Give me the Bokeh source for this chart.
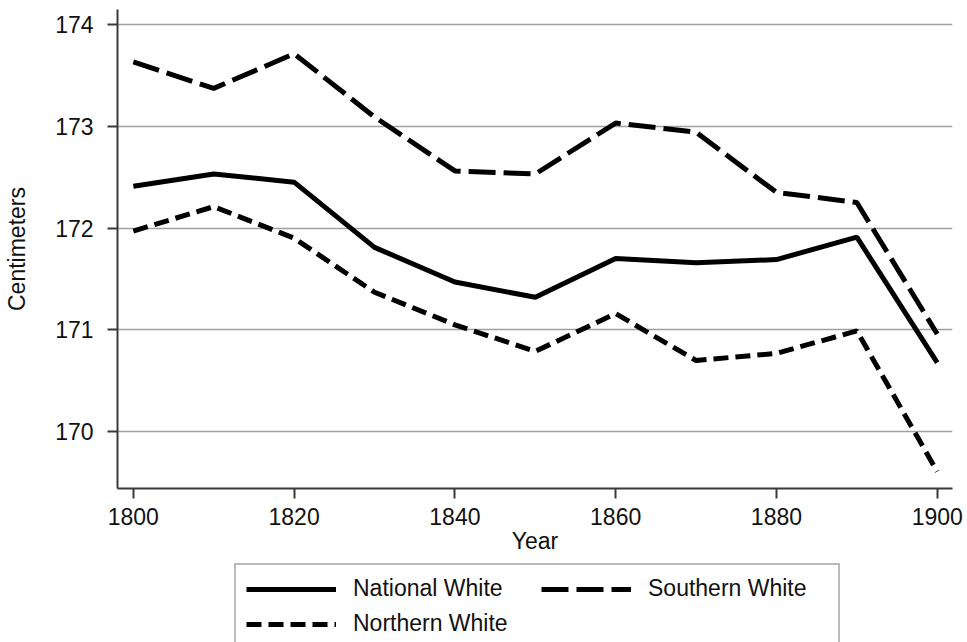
from bokeh.plotting import figure
from bokeh.layouts import column
from bokeh.models import Legend, LegendItem, FixedTicker, Range1d
from bokeh.embed import file_html
from bokeh.resources import INLINE

years = [1800, 1810, 1820, 1830, 1840, 1850, 1860, 1870, 1880, 1890, 1900]
national = [172.41, 172.53, 172.45, 171.81, 171.47, 171.32, 171.70, 171.66, 171.69, 171.91, 170.68]
southern = [173.63, 173.37, 173.71, 173.09, 172.56, 172.53, 173.03, 172.94, 172.35, 172.25, 170.96]
northern = [171.97, 172.21, 171.90, 171.37, 171.05, 170.79, 171.16, 170.70, 170.77, 170.99, 169.61]

x_ticks = [1800, 1820, 1840, 1860, 1880, 1900]
y_ticks = [170, 171, 172, 173, 174]
series_names = ["National White", "Southern White", "Northern White"]

FONT = "Liberation Sans"
STYLES = [dict(line_color="black", line_width=5),
          dict(line_color="black", line_width=5, line_dash="27 8"),
          dict(line_color="black", line_width=5, line_dash="15 7")]
SERIES = [national, southern, northern]

p = figure(width=967, height=562, output_backend="svg", toolbar_location=None,
           x_range=Range1d(1798.03, 1901.9), y_range=Range1d(169.444, 174.144),
           min_border_left=117, min_border_right=15, min_border_top=9, min_border_bottom=74)
p.outline_line_color = None
p.background_fill_color = "white"
p.border_fill_color = "white"

p.xgrid.grid_line_color = None
p.ygrid.grid_line_color = "#a0a0a0"
p.ygrid.grid_line_width = 1.5
p.ygrid.ticker = FixedTicker(ticks=y_ticks)

p.xaxis.ticker = FixedTicker(ticks=x_ticks)
p.yaxis.ticker = FixedTicker(ticks=y_ticks)
for ax in (p.xaxis[0], p.yaxis[0]):
    ax.axis_line_color = "#3a3a3a"
    ax.axis_line_width = 2
    ax.major_tick_line_color = "#3a3a3a"
    ax.major_tick_line_width = 2
    ax.major_tick_out = 10
    ax.major_tick_in = 0
    ax.minor_tick_line_color = None
    ax.major_label_text_font = FONT
    ax.major_label_text_font_size = "23px"
    ax.major_label_text_color = "#111111"
    ax.axis_label_text_font = FONT
    ax.axis_label_text_font_size = "23px"
    ax.axis_label_text_font_style = "normal"
    ax.axis_label_text_color = "#111111"

p.xaxis.axis_label = "Year"
p.yaxis.axis_label = "Centimeters"
p.xaxis.major_label_standoff = 9
p.xaxis.axis_label_standoff = 0
p.yaxis.major_label_standoff = 14
p.yaxis.axis_label_standoff = 22
p.yaxis.major_label_orientation = "horizontal"

for vals, st in zip(SERIES, STYLES):
    p.line(years, vals, **st)

# Legend panel below the chart
lf = figure(width=967, height=80, output_backend="svg", toolbar_location=None,
            x_range=Range1d(0, 1), y_range=Range1d(0, 1),
            x_axis_type=None, y_axis_type=None,
            min_border_left=0, min_border_right=0, min_border_top=0, min_border_bottom=0)
lf.outline_line_color = None
lf.xgrid.grid_line_color = None
lf.ygrid.grid_line_color = None
lf.border_fill_color = "white"

items = []
for name, vals, st in zip(series_names, SERIES, STYLES):
    r = lf.line(years, vals, **st)   # lies outside the legend panel's view; only used for legend glyphs
    items.append(LegendItem(label=name, renderers=[r]))

legend = Legend(items=items, orientation="horizontal", ncols=2, location=(117, -7),
                border_line_color="#777777", border_line_width=2,
                padding=10, spacing=8, margin=0,
                glyph_width=90, glyph_height=26, label_standoff=17, label_width=180,
                label_text_font=FONT, label_text_font_size="23px", label_text_color="#111111")
lf.add_layout(legend, "center")

layout = column(p, lf, spacing=0)
open("out.html", "w").write(file_html(layout, INLINE))
